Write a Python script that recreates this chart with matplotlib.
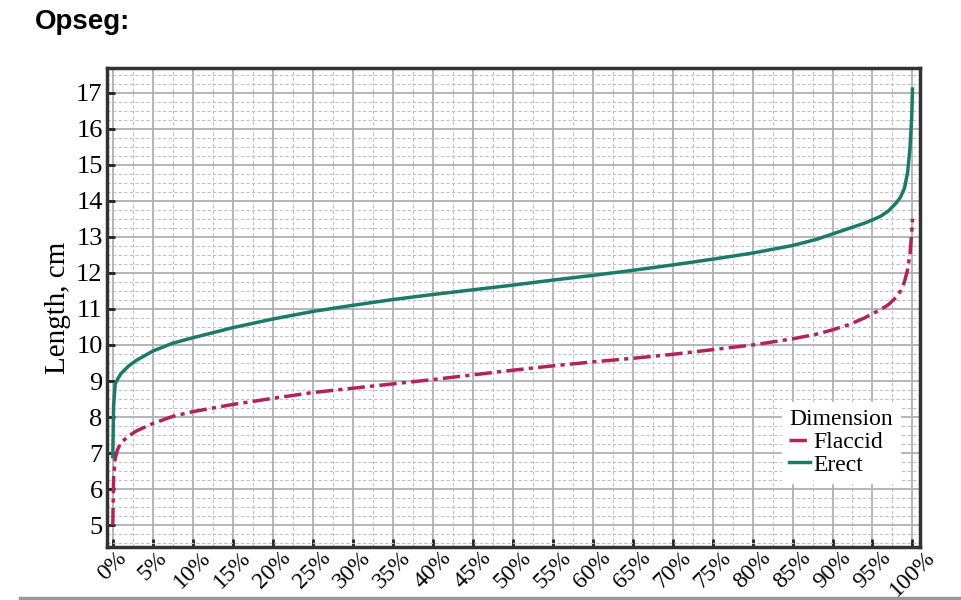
import numpy as np
import matplotlib.pyplot as plt
from matplotlib.ticker import MultipleLocator
from matplotlib.lines import Line2D

# percentile (x) and length in cm (y)
pct = [0, 0.1, 0.3, 0.6, 1, 2, 3, 5, 7.5, 10, 15, 20, 25, 30, 35, 40, 45, 50,
       55, 60, 65, 70, 75, 80, 85, 88, 90, 92, 94, 95, 96, 97, 98, 98.5, 99,
       99.4, 99.7, 99.9, 100]
erect = [6.9, 8.3, 8.92, 9.05, 9.2, 9.42, 9.58, 9.83, 10.05, 10.2, 10.48, 10.72,
         10.93, 11.1, 11.26, 11.4, 11.53, 11.66, 11.8, 11.93, 12.07, 12.22,
         12.38, 12.55, 12.76, 12.93, 13.08, 13.23, 13.38, 13.47, 13.57, 13.72,
         13.95, 14.1, 14.35, 14.8, 15.5, 16.3, 17.1]
flaccid = [5.0, 6.3, 6.85, 7.1, 7.28, 7.48, 7.62, 7.82, 8.02, 8.15, 8.35, 8.52,
           8.68, 8.8, 8.92, 9.04, 9.17, 9.3, 9.42, 9.53, 9.63, 9.74, 9.87,
           10.0, 10.17, 10.3, 10.42, 10.56, 10.75, 10.87, 10.98, 11.12, 11.33,
           11.5, 11.75, 12.1, 12.55, 13.1, 13.5]
xticks = list(range(0, 101, 5))
xlabels = [str(v) + '%' for v in xticks]
yticks = list(range(5, 18))

plt.rcParams['font.family'] = ['Liberation Serif', 'DejaVu Serif']

fig = plt.figure(figsize=(9.62, 6.0), dpi=100)
ax = fig.add_axes([0.111, 0.088, 0.845, 0.799])

ax.plot(pct, flaccid, color='#b0245a', lw=2.5,
        linestyle=(0, (5, 1.5, 1.2, 1.5)), label='Flaccid', zorder=3)
ax.plot(pct, erect, color='#1e7a68', lw=2.5, label='Erect', zorder=3)

ax.set_xlim(-0.75, 100.9)
ax.set_ylim(4.39, 17.69)
ax.set_xticks(xticks)
ax.set_xticklabels(xlabels, rotation=45, ha='center', fontsize=17)
ax.set_yticks(yticks)
ax.tick_params(axis='y', labelsize=19, pad=3)
ax.tick_params(axis='x', pad=0)
ax.xaxis.set_minor_locator(MultipleLocator(2.5))
ax.yaxis.set_minor_locator(MultipleLocator(0.25))
ax.tick_params(which='major', direction='in', length=6, width=2,
               color='#222222')
ax.tick_params(which='minor', length=0)

ax.grid(which='major', color='#b0b0b0', lw=1.3, ls='-', zorder=1)
ax.grid(which='minor', color='#c0c0c0', lw=0.8, ls=(0, (3, 2)), zorder=1)
ax.set_axisbelow(True)

for s in ax.spines.values():
    s.set_linewidth(2.5)
    s.set_color('#333333')

ax.set_ylabel('Length, cm', fontsize=21, labelpad=4)

leg = ax.legend(title='Dimension', loc='lower right',
                bbox_to_anchor=(0.99, 0.11), fontsize=17, title_fontsize=17,
                handlelength=0.9, handletextpad=0.15, labelspacing=0.05,
                borderpad=0.3, fancybox=False, framealpha=1,
                edgecolor='white', alignment='left')
leg.set_zorder(5)

fig.text(35 / 962, 1 - 22 / 600, 'Opseg:', fontsize=20, fontweight='bold',
         family='Liberation Sans', va='center', ha='left')

fig.add_artist(Line2D([20 / 962, 1.0], [1 - 598 / 600, 1 - 598 / 600],
                      color='#999999', lw=2.5))

fig.savefig('out.png', dpi=100, facecolor='white')
